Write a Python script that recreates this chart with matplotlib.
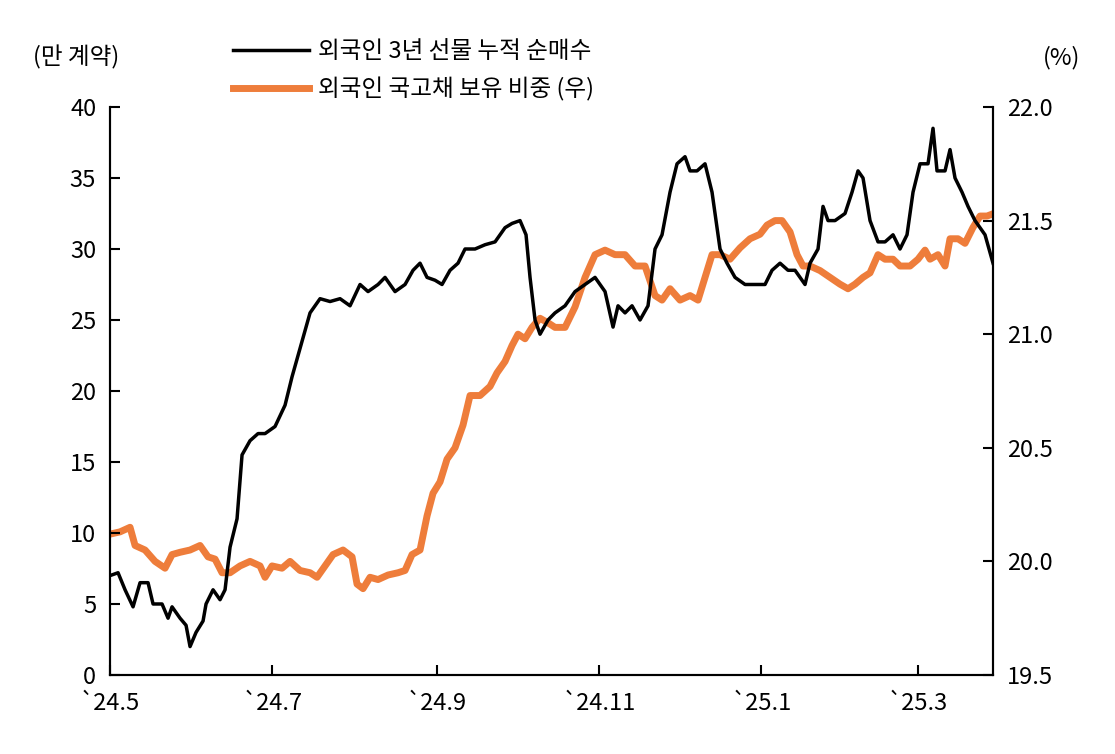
import numpy as np
import matplotlib
matplotlib.use("Agg")
import matplotlib.pyplot as plt
import datetime as dt

plt.rcParams['font.family'] = ['Noto Sans CJK JP', 'Noto Sans CJK KR', 'Noto Sans CJK SC', 'DejaVu Sans']
start = dt.datetime(2024, 5, 1)

# readings: horizontal position (px from 2024-05-01 at 2.658 px per day) and value
black_pos = [0,8,15,23,30,38,43,52,58,62,70,76,80,86,93,96,103,110,115,120,127,132,140,148,155,165,175,182,190,200,210,220,230,240,250,258,268,275,285,295,303,310,317,325,332,340,348,355,365,375,385,395,402,410,416,420,425,430,438,445,455,465,475,485,495,503,508,515,522,530,538,545,552,560,567,575,580,587,595,602,610,617,625,635,645,655,662,670,678,685,690,695,700,708,713,718,725,735,742,748,753,760,768,775,783,790,797,803,810,818,823,827,835,840,845,852,858,865,870,875,883]
black_val = [7,7.2,6,4.8,6.5,6.5,5,5,4,4.8,4,3.5,2,3,3.8,5,6,5.3,6,9,11,15.5,16.5,17,17,17.5,19,21,23,25.5,26.5,26.3,26.5,26,27.5,27,27.5,28,27,27.5,28.5,29,28,27.8,27.5,28.5,29,30,30,30.3,30.5,31.5,31.8,32,31,28,25,24,25,25.5,26,27,27.5,28,27,24.5,26,25.5,26,25,26,30,31,34,36,36.5,35.5,35.5,36,34,30,29,28,27.5,27.5,27.5,28.5,29,28.5,28.5,28,27.5,29,30,33,32,32,32.5,34,35.5,35,32,30.5,30.5,31,30,31,34,36,36,38.5,35.5,35.5,37,35,34,33,32,31.5,31,29]
orange_pos = [0,10,20,25,35,45,55,62,70,80,90,98,105,112,120,130,140,150,155,162,172,180,190,200,207,215,223,233,242,247,253,260,268,278,288,295,302,310,317,323,330,337,345,353,360,370,380,387,395,402,408,415,422,430,438,445,455,465,475,485,495,505,515,525,535,545,552,560,570,580,588,595,602,610,620,630,640,650,657,665,672,680,687,693,700,710,720,730,738,745,753,760,768,775,783,790,800,808,815,820,828,835,840,848,855,863,870,877,883]
orange_val = [20.12,20.13,20.15,20.07,20.05,20.0,19.97,20.03,20.04,20.05,20.07,20.02,20.01,19.95,19.95,19.98,20.0,19.98,19.93,19.98,19.97,20.0,19.96,19.95,19.93,19.98,20.03,20.05,20.02,19.9,19.88,19.93,19.92,19.94,19.95,19.96,20.03,20.05,20.2,20.3,20.35,20.45,20.5,20.6,20.73,20.73,20.77,20.83,20.88,20.95,21.0,20.98,21.03,21.07,21.05,21.03,21.03,21.12,21.25,21.35,21.37,21.35,21.35,21.3,21.3,21.17,21.15,21.2,21.15,21.17,21.15,21.25,21.35,21.35,21.33,21.38,21.42,21.44,21.48,21.5,21.5,21.45,21.35,21.3,21.3,21.28,21.25,21.22,21.2,21.22,21.25,21.27,21.35,21.33,21.33,21.3,21.3,21.33,21.37,21.33,21.35,21.3,21.42,21.42,21.4,21.47,21.52,21.52,21.53]

tick_dates = [dt.datetime(2024,5,1), dt.datetime(2024,7,1), dt.datetime(2024,9,1), dt.datetime(2024,11,1), dt.datetime(2025,1,1), dt.datetime(2025,3,1)]
tick_labels = ["`24.5", "`24.7", "`24.9", "`24.11", "`25.1", "`25.3"]

PXD = 2.658
bx = [start + dt.timedelta(days=p/PXD) for p in black_pos]
ox = [start + dt.timedelta(days=p/PXD) for p in orange_pos]

fig = plt.figure(figsize=(11.15, 7.54), dpi=100)
ax = fig.add_axes([0.0987, 0.1048, 0.7919, 0.7533])
ax2 = ax.twinx()
l1, = ax.plot(bx, black_val, color='black', lw=2.5, zorder=3)
l2, = ax2.plot(ox, orange_val, color='#EE7D3B', lw=5, zorder=2)
ax.set_zorder(ax2.get_zorder() + 1); ax.patch.set_visible(False)

ax.set_xlim(start, start + dt.timedelta(days=883/PXD))
ax.set_ylim(0, 40); ax2.set_ylim(19.5, 22.0)
ax.set_yticks(range(0, 41, 5))
ax2.set_yticks([19.5, 20.0, 20.5, 21.0, 21.5, 22.0])
ax2.set_yticklabels(["19.5", "20.0", "20.5", "21.0", "21.5", "22.0"])
ax.set_xticks(tick_dates)
ax.set_xticklabels(tick_labels)
for a in (ax, ax2):
    a.spines['top'].set_visible(False)
    for s in a.spines.values():
        s.set_linewidth(1.5)
    a.tick_params(labelsize=17, direction='in', length=7, width=1.5)
ax.tick_params(axis='x', pad=12)
ax.tick_params(axis='y', pad=10)
ax2.tick_params(axis='y', pad=10)

fig.text(0.03, 0.915, "(만 계약)", fontsize=17)
fig.text(0.935, 0.915, "(%)", fontsize=17)
fig.legend([l1, l2], ["외국인 3년 선물 누적 순매수", "외국인 국고채 보유 비중 (우)"],
           loc='upper left', bbox_to_anchor=(0.19, 0.975), frameon=False, fontsize=17,
           handlelength=3.2, labelspacing=0.6, handletextpad=0.4)
fig.savefig("out.png", dpi=100)
